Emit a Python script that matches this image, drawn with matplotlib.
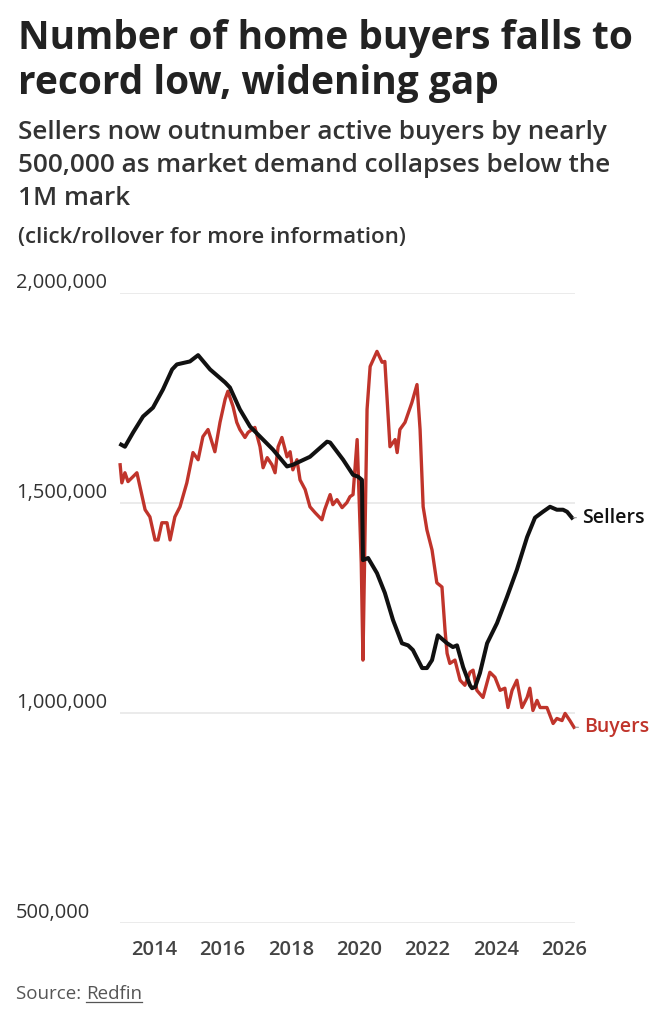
import numpy as np
import matplotlib
matplotlib.use("Agg")
import matplotlib.pyplot as plt
from matplotlib.transforms import blended_transform_factory, ScaledTranslation

# ── Data (values in thousands) ────────────────────────────────────────────────
sellers_year = [2013.04, 2013.15, 2013.39, 2013.68, 2013.97, 2014.26, 2014.53, 2014.67,
                2015.05, 2015.29, 2015.64, 2016.08, 2016.22, 2016.51, 2016.81, 2017.48,
                2017.89, 2018.06, 2018.56, 2019.06, 2019.15, 2019.53, 2019.82, 2019.96,
                2020.08, 2020.11, 2020.26, 2020.52, 2020.75, 2020.99, 2021.25, 2021.43,
                2021.57, 2021.84, 2021.98, 2022.13, 2022.30, 2022.57, 2022.74, 2022.86,
                2023.04, 2023.24, 2023.30, 2023.39, 2023.53, 2023.74, 2024.03, 2024.32,
                2024.61, 2024.91, 2025.14, 2025.37, 2025.58, 2025.78, 2025.96, 2026.08,
                2026.22]
sellers_k = [1639, 1634, 1668, 1706, 1727, 1770, 1818, 1830,
             1837, 1852, 1818, 1787, 1775, 1723, 1682, 1627,
             1587, 1591, 1610, 1646, 1644, 1603, 1567, 1563,
             1555, 1364, 1369, 1333, 1286, 1221, 1166, 1161,
             1150, 1107, 1107, 1126, 1185, 1166, 1157, 1161,
             1109, 1066, 1059, 1062, 1095, 1166, 1214, 1276,
             1341, 1419, 1465, 1479, 1491, 1484, 1484, 1479,
             1465]

buyers_year = [2013.01, 2013.06, 2013.15, 2013.24, 2013.39, 2013.50, 2013.59, 2013.74,
               2013.88, 2014.03, 2014.12, 2014.23, 2014.38, 2014.47, 2014.61, 2014.76,
               2014.96, 2015.14, 2015.29, 2015.43, 2015.58, 2015.78, 2015.93, 2016.08,
               2016.16, 2016.31, 2016.42, 2016.51, 2016.66, 2016.75, 2016.95, 2017.10,
               2017.19, 2017.31, 2017.45, 2017.54, 2017.63, 2017.74, 2017.89, 2017.98,
               2018.06, 2018.18, 2018.27, 2018.42, 2018.56, 2018.71, 2018.91, 2018.99,
               2019.15, 2019.23, 2019.35, 2019.50, 2019.64, 2019.73, 2019.82, 2019.94,
               2019.98, 2020.06, 2020.11, 2020.23, 2020.32, 2020.52, 2020.67, 2020.75,
               2020.90, 2021.05, 2021.11, 2021.19, 2021.34, 2021.54, 2021.69, 2021.78,
               2021.87, 2021.98, 2022.13, 2022.27, 2022.42, 2022.51, 2022.57, 2022.65,
               2022.80, 2022.95, 2023.09, 2023.24, 2023.33, 2023.44, 2023.62, 2023.82,
               2023.97, 2024.12, 2024.26, 2024.35, 2024.47, 2024.61, 2024.76, 2024.91,
               2024.99, 2025.08, 2025.20, 2025.29, 2025.49, 2025.67, 2025.78, 2025.93,
               2026.02, 2026.16, 2026.28]
buyers_k = [1591, 1548, 1572, 1551, 1563, 1572, 1539, 1484,
            1467, 1412, 1412, 1453, 1453, 1412, 1467, 1491,
            1548, 1620, 1603, 1658, 1675, 1622, 1692, 1747,
            1766, 1730, 1692, 1675, 1656, 1668, 1680, 1634,
            1584, 1608, 1591, 1572, 1634, 1656, 1610, 1622,
            1579, 1603, 1555, 1532, 1491, 1477, 1460, 1484,
            1520, 1496, 1508, 1489, 1501, 1515, 1520, 1651,
            1555, 1357, 1126, 1723, 1825, 1861, 1835, 1837,
            1634, 1651, 1620, 1675, 1692, 1739, 1782, 1675,
            1491, 1436, 1388, 1310, 1300, 1197, 1142, 1118,
            1126, 1078, 1066, 1097, 1102, 1054, 1037, 1097,
            1085, 1054, 1059, 1013, 1054, 1078, 1013, 1037,
            1059, 1006, 1030, 1013, 1013, 975, 987, 982,
            999, 982, 966]

y_ticks = [500000, 1000000, 1500000, 2000000]
x_ticks = [2014, 2016, 2018, 2020, 2022, 2024, 2026]

SELLER_COLOR = "#111111"
BUYER_COLOR = "#c0342b"
FONT = ["Open Sans", "DejaVu Sans"]

plt.rcParams["font.family"] = FONT

W, H = 667, 1024
fig = plt.figure(figsize=(W / 100, H / 100), dpi=100)


def fx(px):
    return px / W


def fy(py):
    return 1 - py / H


# plot area: gridlines run from x=120 to x=575, 2M at y=293, 500k at y=923
ax = fig.add_axes([fx(120), fy(923), fx(575) - fx(120), fy(293) - fy(923)])
ax.set_xlim(2013.006, 2026.31)
ax.set_ylim(500000, 2000000)

for v in y_ticks:
    ax.axhline(v, color="#e6e6e6", lw=1.1, zorder=0)

ax.plot(buyers_year, np.array(buyers_k) * 1000, color=BUYER_COLOR, lw=2.4,
        solid_joinstyle="round", zorder=2, clip_on=False)
ax.plot(sellers_year, np.array(sellers_k) * 1000, color=SELLER_COLOR, lw=2.9,
        solid_joinstyle="round", zorder=3, clip_on=False)

for sp in ax.spines.values():
    sp.set_visible(False)

ax.set_yticks([])
ax.set_xticks(x_ticks)
ax.set_xticklabels([str(t) for t in x_ticks])
ax.tick_params(axis="x", length=0, pad=12, labelsize=14.5, labelcolor="#444444")
for lab in ax.get_xticklabels():
    lab.set_fontweight("semibold")

# y labels sit above their gridline, flush left
ylab_tr = blended_transform_factory(fig.transFigure, ax.transData) + \
    ScaledTranslation(0, 5 / 100, fig.dpi_scale_trans)
for v in y_ticks:
    ax.text(fx(16), v, f"{v:,}", transform=ylab_tr, ha="left", va="baseline",
            fontsize=14.5, color="#333333")

# series labels at line ends
ax.annotate("Sellers", xy=(sellers_year[-1], sellers_k[-1] * 1000),
            xytext=(10, 0), textcoords="offset pixels", ha="left", va="center",
            fontsize=14, fontweight="semibold", color=SELLER_COLOR,
            arrowprops=dict(arrowstyle="-", color="#999999", lw=0.8,
                            shrinkA=2, shrinkB=1))
ax.annotate("Buyers", xy=(buyers_year[-1], buyers_k[-1] * 1000),
            xytext=(10, 0), textcoords="offset pixels", ha="left", va="center",
            fontsize=14, fontweight="semibold", color=BUYER_COLOR,
            arrowprops=dict(arrowstyle="-", color="#999999", lw=0.8,
                            shrinkA=2, shrinkB=1))

# ── Header text ───────────────────────────────────────────────────────────────
fig.text(fx(18), fy(49), "Number of home buyers falls to", fontsize=28,
         fontweight="bold", color="#222222", va="baseline")
fig.text(fx(18), fy(94), "record low, widening gap", fontsize=28,
         fontweight="bold", color="#222222", va="baseline")

sub_lines = ["Sellers now outnumber active buyers by nearly",
             "500,000 as market demand collapses below the",
             "1M mark"]
for line, base in zip(sub_lines, [139, 172, 205]):
    fig.text(fx(18), fy(base), line, fontsize=18.8, fontweight="semibold",
             color="#333333", va="baseline")

fig.text(fx(18), fy(243), "(click/rollover for more information)", fontsize=16,
         fontweight="semibold", color="#333333", va="baseline")

# ── Source ────────────────────────────────────────────────────────────────────
src = fig.text(fx(16), fy(999), "Source: ", fontsize=13.5, color="#555555",
               va="baseline")
fig.canvas.draw()
bb = src.get_window_extent()
link = fig.text(bb.x1 / W, fy(999), "Redfin", fontsize=13.5, color="#555555",
                va="baseline")
lb = link.get_window_extent()
fig.add_artist(plt.Line2D([lb.x0 / W, lb.x1 / W], [fy(1002), fy(1002)],
                          color="#555555", lw=0.9, transform=fig.transFigure))

fig.savefig("out.png", dpi=100)
